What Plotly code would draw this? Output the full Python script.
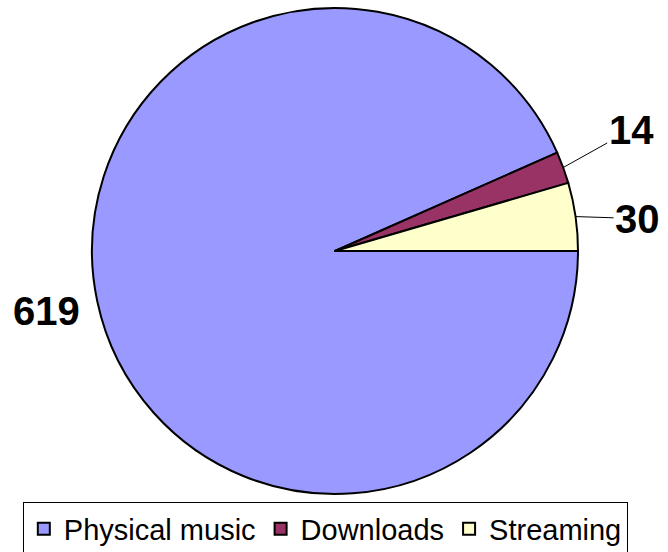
import math
import plotly.graph_objects as go

categories = ["Physical music", "Downloads", "Streaming"]
values = [619, 14, 30]
colors = ["#9999FF", "#993366", "#FFFFCC"]

W, H = 668, 552
cx, cy, r = 335, 251, 243
dom_x = [(cx - r) / W, (cx + r) / W]
dom_y = [1 - (cy + r) / H, 1 - (cy - r) / H]

label_font = dict(family="Liberation Sans, Arial, sans-serif", size=40, color="black", weight="bold")

fig = go.Figure(go.Pie(
    labels=categories,
    values=values,
    sort=False,
    direction="clockwise",
    rotation=90,
    marker=dict(colors=colors, line=dict(color="black", width=2)),
    textinfo="none",
    domain=dict(x=dom_x, y=dom_y),
    hoverinfo="label+value",
))

# value labels placed at each slice's mid angle (computed from the data)
total = sum(values)
# (ax, ay, showarrow) offsets in pixels from the slice edge
label_offsets = {0: (-51, 10, False), 1: (68, -38, True), 2: (62, 2, True)}
end = 0.0
# slices run clockwise from 3 o'clock: Physical, Downloads, Streaming
# -> counterclockwise from 3 o'clock: Streaming, Downloads, Physical
ccw_order = [2, 1, 0]
for i in ccw_order:
    start = end
    end = start + values[i] / total * 360
    mid = math.radians((start + end) / 2)
    px = cx + r * math.cos(mid)
    py = cy - r * math.sin(mid)
    ax, ay, arrow = label_offsets[i]
    if arrow:
        fig.add_annotation(
            x=px / W, y=1 - py / H, xref="paper", yref="paper",
            text=str(values[i]), showarrow=True, arrowhead=0, arrowwidth=1,
            arrowcolor="black", ax=ax, ay=ay, font=label_font,
        )
    else:
        fig.add_annotation(
            x=px / W, y=1 - py / H, xref="paper", yref="paper",
            xanchor="center", yanchor="middle",
            text=str(values[i]), showarrow=False,
            xshift=ax, yshift=-ay, font=label_font,
        )

fig.update_layout(
    width=W, height=H,
    margin=dict(l=0, r=0, t=0, b=0, autoexpand=False),
    paper_bgcolor="white",
    showlegend=True,
    legend=dict(
        orientation="h",
        x=0.487, xanchor="center",
        y=-0.006, yanchor="bottom",
        bordercolor="black", borderwidth=1,
        font=dict(family="Liberation Sans, Arial, sans-serif", size=29, color="black"),
        itemwidth=30,
        tracegroupgap=0,
    ),
)

fig.write_html("out.html")
